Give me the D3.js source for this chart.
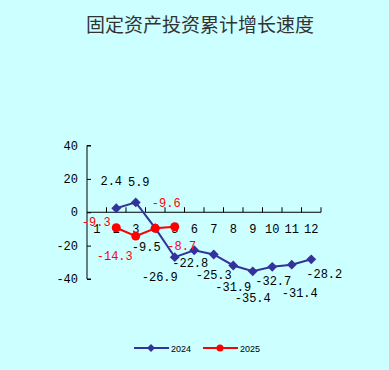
<!DOCTYPE html>
<html>
<head>
<meta charset="utf-8">
<script src="https://cdn.jsdelivr.net/npm/d3@7"></script>
<style>
  body { margin: 0; background: #ccffff; }
  svg { display: block; }
</style>
</head>
<body>
<div class="container"></div>
<script>
let months = ["1", "2", "3", "4", "5", "6", "7", "8", "9", "10", "11", "12"];
let yTicks = [40, 20, 0, -20, -40];
let months2024 = ["2", "3", "4", "5", "6", "7", "8", "9", "10", "11", "12"];
let values2024 = [2.4, 5.9, -9.5, -26.9, -22.8, -25.3, -31.9, -35.4, -32.7, -31.4, -28.2];
let months2025 = ["2", "3", "4", "5"];
let values2025 = [-9.3, -14.3, -9.6, -8.7];
let seriesNames = ["2024", "2025"];

// label offsets (px) from each point, as the original places them
let offsets2024 = [[-5, -23], [3, -16], [-9, 23], [-15, 24], [-4, 17], [0, 25], [0, 26], [0, 31], [1, 18], [8, 32], [13, 19]];
let offsets2025 = [[-20, -2], [-21, 24], [11, -21], [7, 23]];

let W = 389, H = 370;
let blue = "#333399", red = "#ff0000";
let numFont = "'Liberation Mono', 'DejaVu Sans Mono', monospace";

let svg = d3.select(".container").append("svg").attr("width", W).attr("height", H);
svg.append("rect").attr("width", W).attr("height", H).attr("fill", "#ccffff");

svg.append("text")
  .attr("x", 200).attr("y", 32)
  .attr("text-anchor", "middle")
  .attr("font-family", "'Noto Sans CJK SC', sans-serif")
  .attr("font-size", 19)
  .attr("fill", "#333")
  .text("固定资产投资累计增长速度");

let x = d3.scaleBand().domain(months).range([87, 321]);
let y = d3.scaleLinear().domain([-40, 40]).range([279, 145.5]);

// y axis
let yAxis = svg.append("g").attr("transform", "translate(87,0)")
  .call(d3.axisRight(y).tickValues(yTicks).tickSize(4).tickFormat(""));
yAxis.select(".domain").attr("d", `M4,${y(40)}H0V${y(-40)}H4`).attr("stroke", "#000");
yAxis.selectAll(".tick line").attr("stroke", "#000");
svg.append("g").selectAll("text").data(yTicks).enter().append("text")
  .attr("x", 78).attr("y", (d) => y(d) + 4)
  .attr("text-anchor", "end")
  .attr("font-family", numFont).attr("font-size", 12)
  .text((d) => d);

// x axis at zero, ticks upward between categories
let xg = svg.append("g");
xg.append("line").attr("x1", 87).attr("x2", 321).attr("y1", y(0)).attr("y2", y(0)).attr("stroke", "#000");
xg.selectAll("line.t").data(months.slice(1).concat(["end"])).enter().append("line")
  .attr("x1", (d) => d == "end" ? 321 : x(d)).attr("x2", (d) => d == "end" ? 321 : x(d))
  .attr("y1", y(0)).attr("y2", y(0) - 5).attr("stroke", "#000");
xg.selectAll("text").data(months).enter().append("text")
  .attr("x", (d) => x(d) + x.bandwidth() / 2)
  .attr("y", y(0) + 21)
  .attr("text-anchor", "middle")
  .attr("font-family", numFont).attr("font-size", 12)
  .text((d) => d);

let cx = (m) => x(m) + x.bandwidth() / 2;
let line = d3.line().x((d) => cx(d[0])).y((d) => y(d[1]));

let pts2024 = months2024.map((m, i) => [m, values2024[i]]);
let pts2025 = months2025.map((m, i) => [m, values2025[i]]);

svg.append("path").datum(pts2024).attr("d", line).attr("fill", "none").attr("stroke", blue).attr("stroke-width", 2);
svg.selectAll("path.dia").data(pts2024).enter().append("path")
  .attr("d", d3.symbol().type(d3.symbolDiamond2).size(62))
  .attr("transform", (d) => `translate(${cx(d[0])},${y(d[1])})`)
  .attr("fill", blue);

svg.append("path").datum(pts2025).attr("d", line).attr("fill", "none").attr("stroke", red).attr("stroke-width", 2);
svg.selectAll("circle.red").data(pts2025).enter().append("circle")
  .attr("cx", (d) => cx(d[0])).attr("cy", (d) => y(d[1])).attr("r", 4.5)
  .attr("fill", red);

let addLabels = (pts, offs, color) => {
  svg.append("g").selectAll("text").data(pts).enter().append("text")
    .attr("x", (d, i) => cx(d[0]) + offs[i][0])
    .attr("y", (d, i) => y(d[1]) + offs[i][1])
    .attr("text-anchor", "middle")
    .attr("font-family", numFont).attr("font-size", 12)
    .attr("fill", color)
    .text((d) => d[1].toFixed(1));
};
addLabels(pts2024, offsets2024, "#000");
addLabels(pts2025, offsets2025, red);

// legend
let legend = svg.append("g").attr("transform", "translate(0,348)");
seriesNames.forEach((name, i) => {
  let x0 = 134 + i * 69;
  let col = i == 0 ? blue : red;
  legend.append("line").attr("x1", x0).attr("x2", x0 + 35).attr("stroke", col).attr("stroke-width", 2);
  if (i == 0) {
    legend.append("path").attr("d", d3.symbol().type(d3.symbolDiamond2).size(40))
      .attr("transform", `translate(${x0 + 17},0)`).attr("fill", col);
  } else {
    legend.append("circle").attr("cx", x0 + 17).attr("r", 3.5).attr("fill", col);
  }
  legend.append("text").attr("x", x0 + 37).attr("y", 3.5)
    .attr("font-family", "'Liberation Sans', Arial, sans-serif").attr("font-size", 9)
    .text(name);
});
</script>
</body>
</html>
